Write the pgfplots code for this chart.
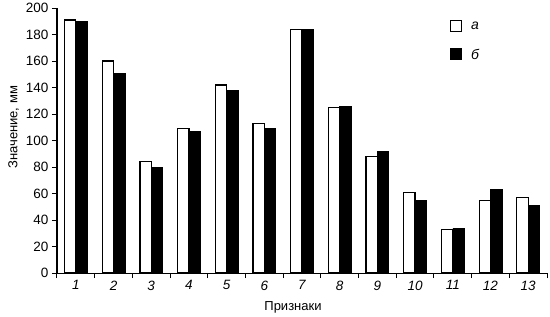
\documentclass[border=0pt]{standalone}
\usepackage{pgfplots}
\pgfplotsset{compat=1.18}
\usepackage{fontspec}
\setmainfont{Liberation Sans}
\begin{document}
\begin{tikzpicture}[x=1pt,y=1pt]
\begin{axis}[
  at={(0pt,0pt)}, anchor=south west,
  scale only axis, width=490pt, height=265pt,
  xmin=0.5, xmax=13.5, ymin=0, ymax=200,
  axis lines*=left, axis line style={line width=1.1pt},
  xtick={1,...,13},
  xticklabel style={font=\fontsize{13.5}{15}\selectfont\itshape, yshift=1pt},
  yticklabel style={font=\fontsize{13.5}{15}\selectfont},
  major x tick style={draw=none},
  minor xtick={0.5,1.5,...,13.5},
  minor tick length=5pt,
  major tick length=5pt,
  tick style={line width=1pt, black},
  tick align=outside,
  ytick={0,20,...,200},
  /pgf/number format/assume math mode=true,
  ylabel={Значение, мм},
  xlabel={Признаки},
  label style={font=\fontsize{13}{15}\selectfont},
  xlabel style={at={(axis description cs:0.5,0)}, anchor=base, yshift=-37pt, xshift=-9pt},
  ylabel style={at={(ticklabel cs:0.55)}},
  legend style={draw=none, at={(0.795,0.965)}, anchor=north west,
    font=\fontsize{14}{16}\selectfont\itshape, row sep=14pt, fill=none,
    /tikz/every odd column/.append style={column sep=7pt}},
  legend image code/.code={\draw[#1,line width=1.3pt] (0pt,-5pt) rectangle (11pt,6pt);},
  clip=false,
]
\addplot[ybar, bar width=0.3, bar shift=-0.15, draw=black, fill=white, line width=1.3pt]
  coordinates {(1,191) (2,160) (3,84) (4,109) (5,142) (6,113) (7,184) (8,125) (9,88) (10,61) (11,33) (12,55) (13,57)};
\addlegendentry{а}
\addplot[ybar, bar width=0.3, bar shift=0.15, draw=black, fill=black, line width=0.5pt]
  coordinates {(1,190) (2,151) (3,80) (4,107) (5,138) (6,109) (7,184) (8,126) (9,92) (10,55) (11,34) (12,63) (13,51)};
\addlegendentry{б}
\end{axis}
\path[use as bounding box] (-57pt,-41pt) rectangle (493pt,270pt);
\end{tikzpicture}
\end{document}
